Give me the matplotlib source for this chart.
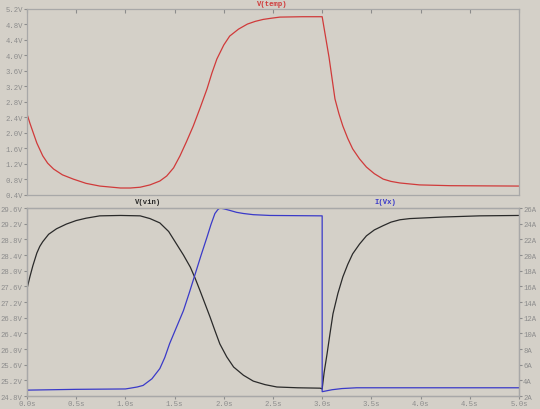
import matplotlib
matplotlib.use("Agg")
import matplotlib.pyplot as plt

# V(temp) - upper pane
t_temp = [0.0, 0.03, 0.06, 0.10, 0.16, 0.21, 0.27, 0.36, 0.47, 0.60, 0.74, 0.95, 1.05, 1.15, 1.25, 1.35,
          1.42, 1.49, 1.555, 1.62, 1.69, 1.76, 1.83, 1.88, 1.93, 2.0, 2.06, 2.15, 2.24, 2.32, 2.40, 2.48,
          2.57, 2.80, 3.0, 3.07, 3.13, 3.17, 3.21, 3.26, 3.31, 3.38, 3.45, 3.53, 3.62, 3.70, 3.79, 3.99,
          4.3, 5.0]
v_temp = [2.49, 2.25, 2.03, 1.74, 1.41, 1.22, 1.07, 0.92, 0.81, 0.70, 0.63, 0.58, 0.58, 0.60, 0.66, 0.76,
          0.89, 1.10, 1.41, 1.77, 2.18, 2.65, 3.14, 3.55, 3.91, 4.27, 4.50, 4.68, 4.81, 4.88, 4.93, 4.96,
          4.99, 5.0, 5.0, 3.95, 2.88, 2.50, 2.18, 1.86, 1.59, 1.33, 1.12, 0.95, 0.81, 0.75, 0.71, 0.66,
          0.64, 0.63]

# V(vin) - lower pane, left axis
t_vin = [0.0, 0.03, 0.06, 0.10, 0.13, 0.16, 0.22, 0.30, 0.40, 0.50, 0.60, 0.74, 0.95, 1.15, 1.25, 1.35,
         1.44, 1.52, 1.59, 1.66, 1.71, 1.76, 1.81, 1.86, 1.91, 1.96, 2.03, 2.10, 2.20, 2.30, 2.42, 2.54,
         2.75, 2.98, 3.0, 3.02, 3.05, 3.08, 3.11, 3.16, 3.21, 3.26, 3.31, 3.38, 3.45, 3.53, 3.62, 3.70,
         3.79, 3.89, 4.23, 4.6, 5.0]
v_vin = [27.54, 27.85, 28.13, 28.45, 28.62, 28.74, 28.93, 29.07, 29.19, 29.28, 29.34, 29.40, 29.41, 29.40,
         29.33, 29.22, 29.00, 28.68, 28.40, 28.09, 27.80, 27.48, 27.15, 26.82, 26.47, 26.13, 25.80, 25.54,
         25.33, 25.18, 25.09, 25.03, 25.01, 25.00, 24.98, 25.40, 25.88, 26.40, 26.90, 27.42, 27.84, 28.16,
         28.43, 28.68, 28.89, 29.04, 29.15, 29.24, 29.30, 29.33, 29.37, 29.40, 29.41]

# I(Vx) - lower pane, right axis
t_ivx = [0.0, 0.5, 1.0, 1.05, 1.12, 1.18, 1.27, 1.35, 1.40, 1.45, 1.52, 1.59, 1.65, 1.71, 1.77, 1.83,
         1.87, 1.91, 1.94, 1.96, 2.0, 2.06, 2.13, 2.20, 2.30, 2.47, 3.0, 3.0001, 3.1, 3.2, 3.35, 5.0]
i_ivx = [2.75, 2.85, 2.9, 3.0, 3.15, 3.35, 4.2, 5.5, 6.9, 8.7, 10.8, 12.9, 15.2, 17.6, 20.0, 22.3,
         23.9, 25.3, 25.8, 26.0, 25.9, 25.7, 25.45, 25.3, 25.15, 25.05, 25.0, 2.55, 2.8, 2.95, 3.05, 3.05]

x_ticks = [0.0, 0.5, 1.0, 1.5, 2.0, 2.5, 3.0, 3.5, 4.0, 4.5, 5.0]
temp_ticks = [0.4, 0.8, 1.2, 1.6, 2.0, 2.4, 2.8, 3.2, 3.6, 4.0, 4.4, 4.8, 5.2]
vin_ticks = [24.8, 25.2, 25.6, 26.0, 26.4, 26.8, 27.2, 27.6, 28.0, 28.4, 28.8, 29.2, 29.6]
ivx_ticks = [2, 4, 6, 8, 10, 12, 14, 16, 18, 20, 22, 24, 26]

bg = "#d4d0c8"
grey = "#8c8c8c"
fnt = "Liberation Mono"
fs = 5.2

fig = plt.figure(figsize=(5.4, 4.1), dpi=100, facecolor=bg)
ax1 = fig.add_axes([0.05, 0.522, 0.911, 0.4537], facecolor=bg)
ax2 = fig.add_axes([0.05, 0.0317, 0.911, 0.4585], facecolor=bg)
ax3 = ax2.twinx()

ax1.plot(t_temp, v_temp, color="#d03a3a", lw=0.9)
ax2.plot(t_vin, v_vin, color="#2a2a2a", lw=0.9)
ax3.plot(t_ivx, i_ivx, color="#3a3ac8", lw=0.9)

ax1.set_xlim(0, 5)
ax1.set_ylim(0.4, 5.2)
ax2.set_xlim(0, 5)
ax2.set_ylim(24.8, 29.6)
ax3.set_ylim(2, 26)

ax1.set_xticks(x_ticks)
ax1.set_xticklabels([])
ax1.tick_params(axis="x", direction="in", length=3, color=grey, top=True, bottom=False)
ax1.set_yticks(temp_ticks)
ax1.set_yticklabels(["%.1fV" % v for v in temp_ticks])

ax2.set_xticks(x_ticks)
ax2.set_xticklabels(["%.1fs" % v for v in x_ticks])
ax2.set_yticks(vin_ticks)
ax2.set_yticklabels(["%.1fV" % v for v in vin_ticks])
ax3.set_yticks(ivx_ticks)
ax3.set_yticklabels(["%dA" % v for v in ivx_ticks])

for a in (ax1, ax2, ax3):
    a.tick_params(axis="y", direction="out", length=2.5, width=0.8, color=grey,
                  labelcolor=grey, labelsize=fs, pad=0.5)
    for s in a.spines.values():
        s.set_color("#a8a8a8")
        s.set_linewidth(0.9)
    for lab in a.get_yticklabels() + a.get_xticklabels():
        lab.set_family(fnt)
ax2.tick_params(axis="x", direction="out", length=2, color=grey, labelcolor=grey,
                labelsize=fs, pad=1)
for lab in ax2.get_xticklabels():
    lab.set_family(fnt)

fig.text(272 / 540, 1 - 4 / 410, "V(temp)", color="#d03a3a", fontsize=fs, family=fnt,
         weight="bold", ha="center", va="center")
fig.text(148 / 540, 1 - 203 / 410, "V(vin)", color="#2a2a2a", fontsize=fs, family=fnt,
         weight="bold", ha="center", va="center")
fig.text(385 / 540, 1 - 203 / 410, "I(Vx)", color="#3a3ac8", fontsize=fs, family=fnt,
         weight="bold", ha="center", va="center")

plt.savefig("out.png", dpi=100, facecolor=bg)
